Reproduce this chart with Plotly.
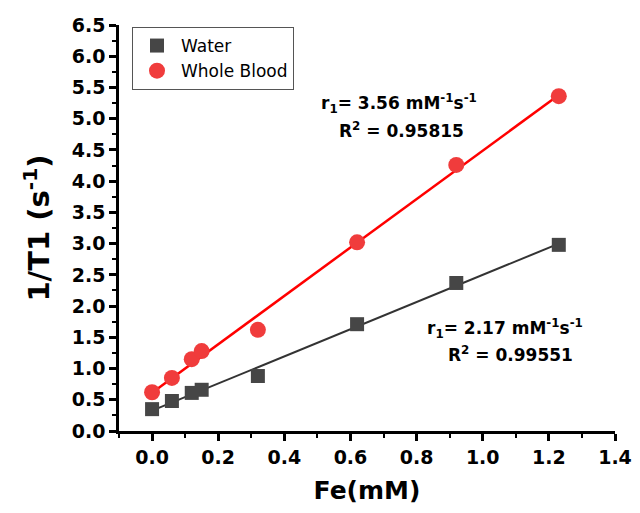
import numpy as np
import plotly.graph_objects as go

# Data
fe_water = [0.0, 0.06, 0.12, 0.15, 0.32, 0.62, 0.92, 1.23]
t1_water = [0.35, 0.48, 0.61, 0.66, 0.88, 1.71, 2.37, 2.98]
fe_blood = [0.0, 0.06, 0.12, 0.15, 0.32, 0.62, 0.92, 1.23]
t1_blood = [0.62, 0.85, 1.15, 1.28, 1.62, 3.02, 4.26, 5.36]

x_ticks = [0.0, 0.2, 0.4, 0.6, 0.8, 1.0, 1.2, 1.4]
y_ticks = [0.0, 0.5, 1.0, 1.5, 2.0, 2.5, 3.0, 3.5, 4.0, 4.5, 5.0, 5.5, 6.0, 6.5]

water_color = "#464646"
blood_color = "#f03c3c"

def fit(x, y):
    k, b = np.polyfit(x, y, 1)
    xs = np.array([min(x), max(x)])
    return xs, k * xs + b

fig = go.Figure()

xw, yw = fit(fe_water, t1_water)
xb, yb = fit(fe_blood, t1_blood)

fig.add_trace(go.Scatter(x=xw, y=yw, mode="lines", line=dict(color="#333333", width=2),
                         showlegend=False, hoverinfo="skip"))
fig.add_trace(go.Scatter(x=xb, y=yb, mode="lines", line=dict(color="#ff0000", width=2.5),
                         showlegend=False, hoverinfo="skip"))
fig.add_trace(go.Scatter(x=fe_water, y=t1_water, mode="markers", name="Water",
                         marker=dict(symbol="square", size=14, color=water_color)))
fig.add_trace(go.Scatter(x=fe_blood, y=t1_blood, mode="markers", name="Whole Blood",
                         marker=dict(symbol="circle", size=16, color=blood_color)))

FONT = "DejaVu Sans"
tick_font = dict(size=19, family=FONT, weight="bold", color="black")

# plot area in window pixels (page body adds an 8px offset)
PL, PR, PT, PB = 119, 615, 25, 431
PW, PH = PR - PL, PB - PT

fig.update_layout(
    width=632, height=497,
    margin=dict(l=PL - 8, r=640 - PR, t=PT - 8, b=505 - PB, autoexpand=False),
    paper_bgcolor="white", plot_bgcolor="white",
    font=dict(family=FONT, color="black"),
    legend=dict(x=(132 - PL) / PW, y=1 - (27 - PT) / PH, xanchor="left", yanchor="top",
                bordercolor="#555555", borderwidth=1, bgcolor="white",
                font=dict(size=17, family=FONT),
                itemwidth=38, tracegroupgap=0),
    xaxis=dict(range=[-0.1, 1.4], tickvals=x_ticks, tickformat=".1f", automargin=False,
               ticklabeloverflow="allow",
               showline=True, linecolor="black", linewidth=2.5,
               ticks="outside", ticklen=7, tickwidth=2.5, tickcolor="black",
               minor=dict(dtick=0.1, tick0=0, ticks="outside", ticklen=4, tickwidth=2, tickcolor="black"),
               showgrid=False, zeroline=False,
               tickfont=tick_font,
               title=dict(text="<b>Fe(mM)</b>", font=dict(size=25, family=FONT), standoff=16)),
    yaxis=dict(range=[0, 6.5], tickvals=y_ticks, tickformat=".1f", automargin=False,
               ticklabeloverflow="allow",
               showline=True, linecolor="black", linewidth=2.5,
               ticks="outside", ticklen=7, tickwidth=2.5, tickcolor="black",
               minor=dict(dtick=0.25, tick0=0, ticks="outside", ticklen=4, tickwidth=2, tickcolor="black"),
               showgrid=False, zeroline=False,
               tickfont=tick_font,
               title=dict(text="<b>1/T1 (s<sup>-1</sup>)</b>", font=dict(size=29, family=FONT), standoff=14)),
)

ann_font = dict(size=17, family=FONT, color="black")

def note(px, py, text):
    fig.add_annotation(x=(px - PL) / PW, y=1 - (py - PT) / PH, xref="paper", yref="paper",
                       xanchor="center", yanchor="middle", text=text,
                       showarrow=False, font=ann_font)

note(399, 103, "<b>r<sub>1</sub>= 3.56 mM<sup>-1</sup>s<sup>-1</sup></b>")
note(401, 130, "<b>R<sup>2</sup> = 0.95815</b>")
note(505, 328, "<b>r<sub>1</sub>= 2.17 mM<sup>-1</sup>s<sup>-1</sup></b>")
note(510, 354, "<b>R<sup>2</sup> = 0.99551</b>")

fig.write_html("out.html")
